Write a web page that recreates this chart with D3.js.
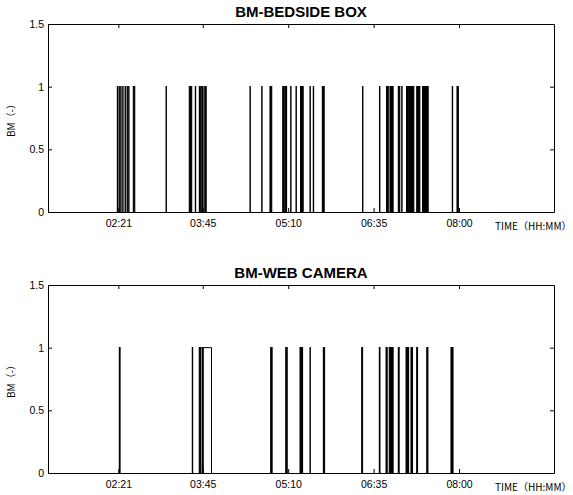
<!DOCTYPE html>
<html>
<head>
<meta charset="utf-8">
<script src="https://cdn.jsdelivr.net/npm/d3@7"></script>
<style>
  body { margin: 0; background: #fff; }
  svg { display: block; }
  .axis text { font-family: "Liberation Sans", Arial, sans-serif; font-size: 10.5px; fill: #000; }
  .axis path, .axis line { stroke: #000; }
  .title { font-family: "Liberation Sans", Arial, sans-serif; font-weight: bold; font-size: 15px; }
  .axislabel { font-family: "Noto Sans CJK JP", sans-serif; font-size: 10px; }
</style>
</head>
<body>
<div id="chart"></div>
<script>
// times in minutes after midnight
const tickTimes = [141, 225, 310, 395, 480];
const tickLabels = ['02:21', '03:45', '05:10', '06:35', '08:00'];
const timeDomain = [71, 574.5];
const yTicks = [0, 0.5, 1, 1.5];

// BM detected by the bedside box: [on, off]
const bedsidePulses = [
  [140.0, 140.3], [141.7, 142.0], [143.4, 143.7], [145.4, 145.7], [147.7, 148.0],
  [149.7, 150.0], [151.3, 151.6], [155.9, 157.3], [188.5, 188.8],
  [211.6, 214.0], [217.6, 217.9], [221.6, 222.6], [224.0, 225.3], [227.0, 228.4],
  [272.0, 272.3], [283.7, 284.0], [291.9, 293.6], [304.6, 306.0], [306.9, 308.4],
  [312.5, 312.8], [317.8, 318.1], [322.3, 324.9], [331.7, 332.0], [335.0, 335.3],
  [344.0, 345.8], [384.0, 384.3], [400.9, 401.2], [407.9, 409.6], [411.3, 414.4],
  [419.6, 421.0], [423.0, 423.3], [427.8, 429.6], [430.7, 435.0], [437.9, 441.0],
  [443.7, 449.3], [473.3, 473.6], [478.0, 479.3]
];

// BM detected by the web camera: [on, off]
const cameraPulses = [
  [142.0, 142.7], [214.6, 214.9], [221.5, 222.9], [224.4, 225.4],
  [292.6, 294.0], [307.6, 309.0], [321.8, 324.3], [331.7, 332.0], [345.0, 346.2],
  [383.2, 384.0], [400.7, 401.3], [407.4, 408.5], [410.6, 414.4], [419.6, 420.4],
  [427.3, 429.8], [432.2, 433.7], [437.9, 438.7], [447.9, 449.0], [472.0, 474.0]
];
// one long web camera pulse that stays open in the picture
const cameraOpenPulses = [[225.0, 233.7]];

const W = 573, H = 495;
const svg = d3.select('#chart').append('svg')
  .attr('width', W)
  .attr('height', H);

function drawPanel(title, pulses, openPulses, top) {
  const left = 48, right = 554, height = 188;
  const x = d3.scaleLinear().domain(timeDomain).range([left, right]);
  const y = d3.scaleLinear().domain([0, 1.5]).range([top + height, top]);

  const g = svg.append('g');
  const line = d3.line().x(d => x(d[0])).y(d => y(d[1]));
  const step = p => line([[p[0], 0], [p[0], 1], [p[1], 1], [p[1], 0]]);

  // short pulses, densely packed so they read as solid bars
  g.selectAll('.pulse')
    .data(pulses)
    .enter().append('path')
    .attr('class', 'pulse')
    .attr('d', step)
    .attr('fill', '#000')
    .attr('stroke', '#000')
    .attr('stroke-width', 1.1);

  g.selectAll('.open-pulse')
    .data(openPulses)
    .enter().append('path')
    .attr('class', 'open-pulse')
    .attr('d', step)
    .attr('fill', 'none')
    .attr('stroke', '#000')
    .attr('stroke-width', 1);

  // axes, ticks inside like the original
  g.append('g')
    .attr('class', 'axis')
    .attr('transform', `translate(0, ${top + height})`)
    .call(d3.axisBottom(x).tickValues(tickTimes)
      .tickFormat((d, i) => tickLabels[i])
      .tickSizeInner(-4).tickSizeOuter(0).tickPadding(8));
  g.append('g')
    .attr('class', 'axis')
    .attr('transform', `translate(0, ${top})`)
    .call(d3.axisTop(x).tickValues(tickTimes).tickFormat('')
      .tickSizeInner(-4).tickSizeOuter(0));
  g.append('g')
    .attr('class', 'axis')
    .attr('transform', `translate(${left}, 0)`)
    .call(d3.axisLeft(y).tickValues(yTicks).tickFormat(d3.format('~g'))
      .tickSizeInner(-4).tickSizeOuter(0).tickPadding(4));
  g.append('g')
    .attr('class', 'axis')
    .attr('transform', `translate(${right}, 0)`)
    .call(d3.axisRight(y).tickValues(yTicks).tickFormat('')
      .tickSizeInner(-4).tickSizeOuter(0));

  g.append('text')
    .attr('class', 'title')
    .attr('x', (left + right) / 2)
    .attr('y', top - 7)
    .attr('text-anchor', 'middle')
    .text(title);

  g.append('text')
    .attr('class', 'axislabel')
    .attr('transform', `translate(15, ${top + height / 2}) rotate(-90)`)
    .attr('text-anchor', 'middle')
    .text('BM（-）');

  g.append('text')
    .attr('class', 'axislabel')
    .attr('x', 495)
    .attr('y', top + height + 18)
    .text('TIME（HH:MM）');
}

drawPanel('BM-BEDSIDE BOX', bedsidePulses, [], 24);
drawPanel('BM-WEB CAMERA', cameraPulses, cameraOpenPulses, 285);
</script>
</body>
</html>
